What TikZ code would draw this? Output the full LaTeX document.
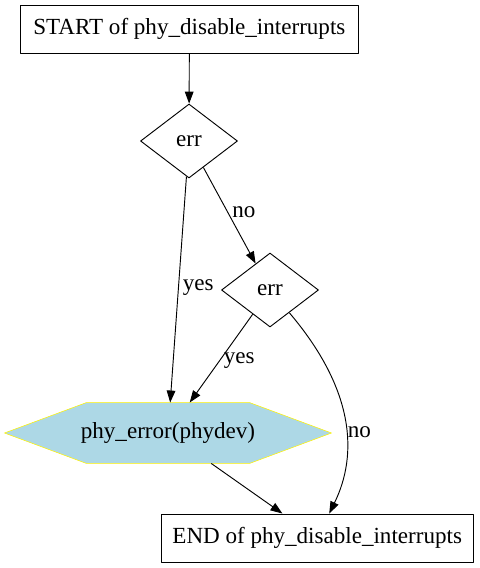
\documentclass[tikz,border=0pt]{standalone}
\usepackage{fontspec}
\setmainfont{Liberation Serif}
\usepackage{xcolor}
\usepackage{tikz}
\usetikzlibrary{arrows.meta,shapes.geometric,backgrounds,calc}

\definecolor{lightblue}{HTML}{ADD8E6}

\begin{document}
\begin{tikzpicture}[x=0.75pt, y=-0.75pt, >={Triangle[length=9pt,width=6.5pt]},
    line join=round, line width=0.7pt,
    every node/.style={font=\rmfamily\fontsize{17.3}{20}\selectfont},
    boxnode/.style={draw, rectangle, minimum height=36pt, inner sep=0pt},
    decision/.style={draw, diamond, aspect=1.31, minimum width=72.75pt, minimum height=55.5pt, inner sep=0pt},
    edge/.style={->},
    lbl/.style={right, inner sep=3pt}]

% Bordi
\useasboundingbox (0,0) rectangle (479,568);

% Nodi
\node[boxnode, minimum width=254pt] (start) at (189.4,29) {START of phy\_disable\_interrupts};
\node[decision] (err1) at (189,141) {err};
\node[decision] (err2) at (270,290) {err};
\node[minimum width=244.5pt, minimum height=45pt, inner sep=0pt] (phyerr) at (168,433) {phy\_error(phydev)};
\node[boxnode, minimum width=234pt] (finish) at (317.2,538) {END of phy\_disable\_interrupts};

% Esagono
\begin{scope}[on background layer]
\filldraw[fill=lightblue, draw=yellow] (phyerr.west)
    -- ($(phyerr.north west)+(82,0)$) -- ($(phyerr.north east)+(-82,0)$)
    -- (phyerr.east)
    -- ($(phyerr.south east)+(-82,0)$) -- ($(phyerr.south west)+(82,0)$) -- cycle;
\end{scope}

% Archi
\draw[edge] (start) -- (err1);
\draw[edge] (err1) -- node[lbl, pos=0.49] {yes} (phyerr);
\draw[edge] (err1) -- node[lbl, pos=0.47] {no} (err2);
\draw[edge] (err2) -- node[lbl, pos=0.53] {yes} (phyerr);
\draw[edge] (err2) .. controls (355,390) and (358,455) .. node[lbl, pos=0.56, xshift=-2pt] {no} (finish);
\draw[edge] (phyerr) -- (finish);

\end{tikzpicture}
\end{document}
